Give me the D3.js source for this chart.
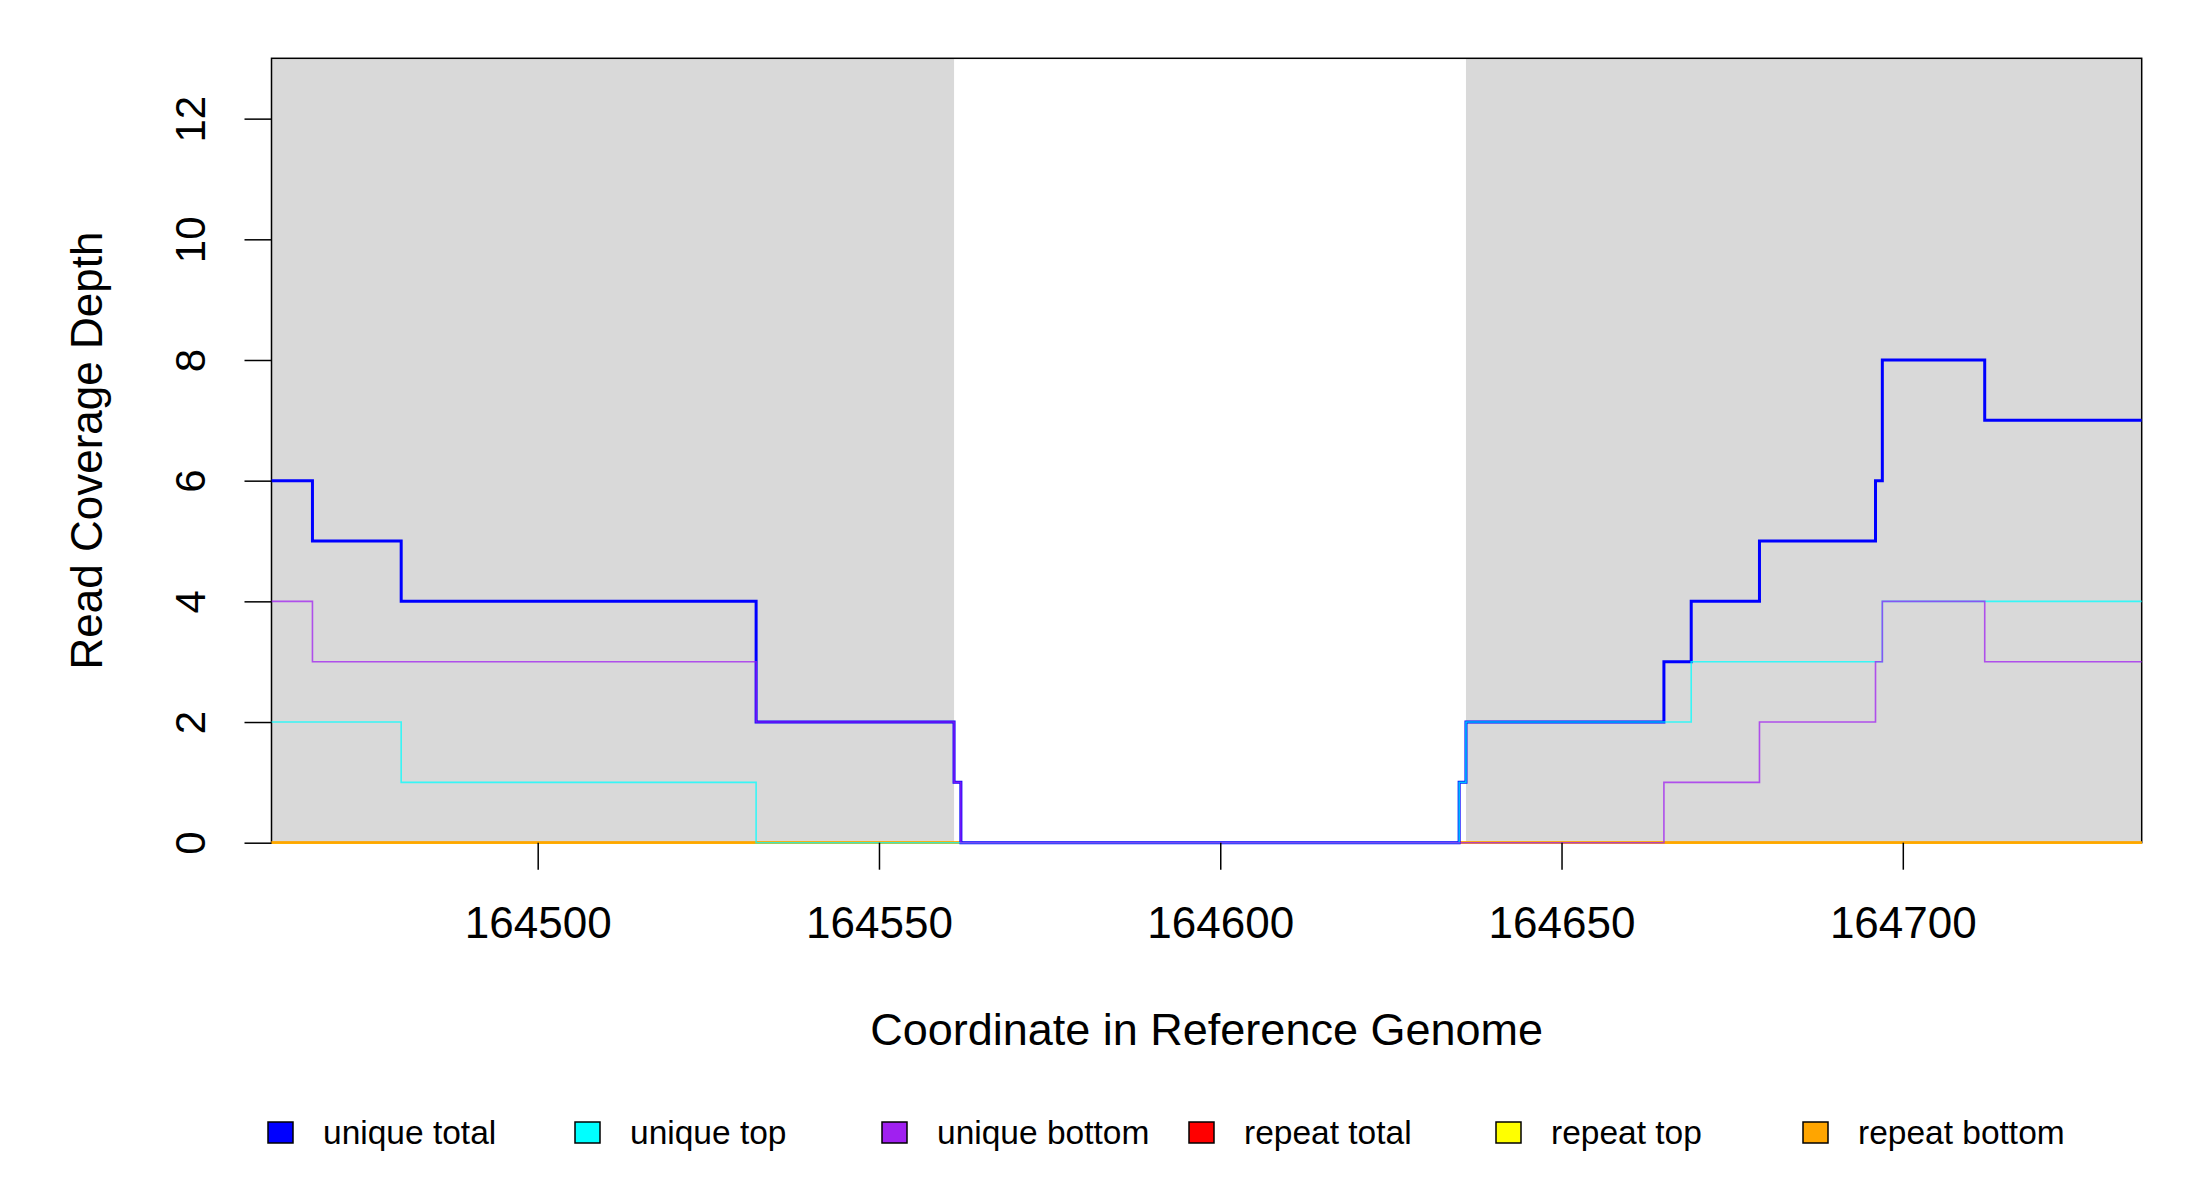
<!DOCTYPE html>
<html lang="en">
<head>
    <meta charset="UTF-8">
    <title>Read Coverage Depth</title>
    <script src="https://cdnjs.cloudflare.com/ajax/libs/d3/7.8.5/d3.min.js"></script>
    <style>
        * {
            margin: 0;
            padding: 0;
        }

        body {
            background-color: white;
            width: 2200px;
            height: 1200px;
            overflow: hidden;
        }

        svg text {
            font-family: 'Liberation Sans', Arial, sans-serif;
            fill: black;
        }
    </style>
</head>
<body>
    <div id="chart"></div>

    <script>
        // Step breakpoints along the reference (each value holds until the next breakpoint)
        const positions = [164461, 164467, 164480, 164532, 164561, 164562, 164635,
                           164636, 164665, 164669, 164679, 164696, 164697, 164712, 164735];

        // Coverage per interval (14 intervals)
        const uniqueTotal  = [6, 5, 4, 2, 1, 0, 1, 2, 3, 4, 5, 6, 8, 7];
        const uniqueTop    = [2, 2, 1, 0, 0, 0, 1, 2, 2, 3, 3, 3, 4, 4];
        const uniqueBottom = [4, 3, 3, 2, 1, 0, 0, 0, 1, 1, 2, 3, 4, 3];
        // repeat coverage is absent over the gap
        const repeatTotal  = [0, 0, 0, 0, 0, null, 0, 0, 0, 0, 0, 0, 0, 0];
        const repeatTop    = [0, 0, 0, 0, 0, null, 0, 0, 0, 0, 0, 0, 0, 0];
        const repeatBottom = [0, 0, 0, 0, 0, null, 0, 0, 0, 0, 0, 0, 0, 0];

        // Shaded (gray) regions
        const shadedRegions = [[164461, 164561], [164636, 164735]];

        const xTicks = [164500, 164550, 164600, 164650, 164700];
        const yTicks = [0, 2, 4, 6, 8, 10, 12];

        const seriesNames = ['unique total', 'unique top', 'unique bottom',
                             'repeat total', 'repeat top', 'repeat bottom'];
        const seriesColors = ['#0000FF', '#00FFFF', '#A020F0', '#FF0000', '#FFFF00', '#FFA500'];

        const W = 2200, H = 1200;
        const plot = {left: 271.5, right: 2141.7, top: 58.3, bottom: 842.7};

        const svg = d3.select('#chart')
            .append('svg')
            .attr('width', W)
            .attr('height', H);

        const x = d3.scaleLinear()
            .domain([positions[0], positions[positions.length - 1]])
            .range([plot.left, plot.right]);

        const y = d3.scaleLinear()
            .domain([0, 13])
            .range([plot.bottom, plot.top]);

        // gray shading
        svg.selectAll('rect.shade')
            .data(shadedRegions)
            .enter()
            .append('rect')
            .attr('class', 'shade')
            .attr('x', d => x(d[0]))
            .attr('y', plot.top)
            .attr('width', d => x(d[1]) - x(d[0]))
            .attr('height', plot.bottom - plot.top)
            .attr('fill', '#D9D9D9');

        // plot frame
        svg.append('rect')
            .attr('x', plot.left)
            .attr('y', plot.top)
            .attr('width', plot.right - plot.left)
            .attr('height', plot.bottom - plot.top)
            .attr('fill', 'none')
            .attr('stroke', 'black')
            .attr('stroke-width', 1.5);

        // turn interval values into step points
        function stepPoints(values) {
            const pts = [];
            values.forEach((v, i) => {
                pts.push([positions[i], v]);
                pts.push([positions[i + 1], v]);
            });
            return pts;
        }

        const line = d3.line()
            .defined(d => d[1] !== null)
            .x(d => x(d[0]))
            .y(d => y(d[1]));

        const series = [
            {values: repeatTotal,  color: seriesColors[3], width: 2.2, opacity: 1},
            {values: repeatTop,    color: seriesColors[4], width: 2.2, opacity: 1},
            {values: repeatBottom, color: seriesColors[5], width: 2.2, opacity: 1},
            {values: uniqueTotal,  color: seriesColors[0], width: 3,   opacity: 1},
            {values: uniqueTop,    color: seriesColors[1], width: 1.6, opacity: 0.75},
            {values: uniqueBottom, color: seriesColors[2], width: 1.6, opacity: 0.75}
        ];

        series.forEach(s => {
            svg.append('path')
                .datum(stepPoints(s.values))
                .attr('d', line)
                .attr('fill', 'none')
                .attr('stroke', s.color)
                .attr('stroke-width', s.width)
                .attr('stroke-opacity', s.opacity)
                .attr('stroke-linejoin', 'miter');
        });

        // Y axis
        const yAxis = svg.append('g')
            .attr('transform', `translate(${plot.left},0)`)
            .call(d3.axisLeft(y).tickValues(yTicks).tickSize(27).tickFormat(d3.format('d')));
        yAxis.select('.domain').remove();
        yAxis.selectAll('.tick line').attr('stroke', 'black').attr('stroke-width', 1.5);
        yAxis.selectAll('.tick text')
            .attr('x', null).attr('dy', null)
            .attr('transform', 'translate(-67,0) rotate(-90)')
            .attr('text-anchor', 'middle')
            .style('font-size', '42px');

        // X axis
        const xAxis = svg.append('g')
            .attr('transform', `translate(0,${plot.bottom})`)
            .call(d3.axisBottom(x).tickValues(xTicks).tickSize(27).tickFormat(d3.format('d')));
        xAxis.select('.domain').remove();
        xAxis.selectAll('.tick line').attr('stroke', 'black').attr('stroke-width', 1.5);
        xAxis.selectAll('.tick text')
            .attr('y', 95.5).attr('dy', null)
            .style('font-size', '44px');

        // axis titles
        svg.append('text')
            .attr('x', (plot.left + plot.right) / 2)
            .attr('y', 1045)
            .attr('text-anchor', 'middle')
            .style('font-size', '45px')
            .text('Coordinate in Reference Genome');

        svg.append('text')
            .attr('transform', `translate(101.7,${(plot.top + plot.bottom) / 2}) rotate(-90)`)
            .attr('text-anchor', 'middle')
            .style('font-size', '44px')
            .text('Read Coverage Depth');

        // legend
        const legend = svg.append('g');
        seriesNames.forEach((name, i) => {
            const lx = 268 + i * 307;
            legend.append('rect')
                .attr('x', lx)
                .attr('y', 1122)
                .attr('width', 25)
                .attr('height', 21)
                .attr('fill', seriesColors[i])
                .attr('stroke', 'black')
                .attr('stroke-width', 1.5);
            legend.append('text')
                .attr('x', lx + 55)
                .attr('y', 1144)
                .style('font-size', '33.5px')
                .text(name);
        });
    </script>
</body>
</html>
